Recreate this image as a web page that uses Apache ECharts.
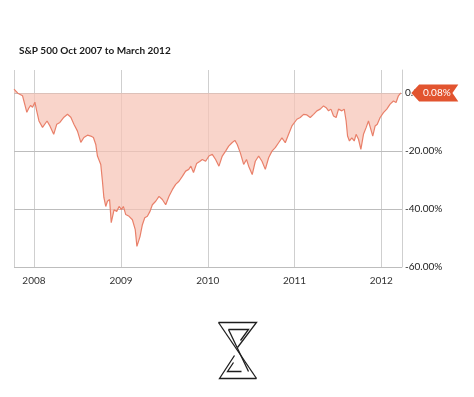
<!DOCTYPE html>
<html>
<head>
<meta charset="utf-8">
<title>S&P 500 Oct 2007 to March 2012</title>
<script src="https://cdn.jsdelivr.net/npm/echarts@6/dist/echarts.min.js"></script>
<style>
  html, body { margin: 0; padding: 0; background: #fff; }
  .chart { width: 474px; height: 397px; }
</style>
</head>
<body>
<div class="chart"></div>
<script>
// 数据
let dates = [
  '2007-10-09', '2007-10-25', '2007-11-14', '2007-11-23', '2007-12-02', '2007-12-10', '2007-12-18', '2007-12-26',
  '2008-01-05', '2008-01-12', '2008-01-22', '2008-02-06', '2008-02-12', '2008-02-25', '2008-03-08', '2008-03-24',
  '2008-04-06', '2008-04-19', '2008-05-06', '2008-05-21', '2008-06-04', '2008-06-17', '2008-07-02', '2008-07-16',
  '2008-07-29', '2008-08-13', '2008-08-27', '2008-09-07', '2008-09-17', '2008-09-24', '2008-09-30', '2008-10-08',
  '2008-10-15', '2008-10-21', '2008-10-29', '2008-11-05', '2008-11-14', '2008-11-21', '2008-12-03', '2008-12-14',
  '2008-12-24', '2009-01-03', '2009-01-11', '2009-01-21', '2009-02-04', '2009-02-18', '2009-03-02', '2009-03-09',
  '2009-03-22', '2009-04-01', '2009-04-11', '2009-04-22', '2009-05-03', '2009-05-13', '2009-05-27', '2009-06-10',
  '2009-06-24', '2009-07-08', '2009-07-22', '2009-08-05', '2009-08-19', '2009-09-02', '2009-09-16', '2009-09-30',
  '2009-10-13', '2009-10-22', '2009-11-02', '2009-11-15', '2009-11-28', '2009-12-09', '2009-12-23', '2010-01-06',
  '2010-01-20', '2010-02-03', '2010-02-17', '2010-03-03', '2010-03-17', '2010-03-30', '2010-04-13', '2010-04-25',
  '2010-05-05', '2010-05-18', '2010-06-01', '2010-06-13', '2010-06-22', '2010-07-07', '2010-07-20', '2010-08-03',
  '2010-08-17', '2010-08-31', '2010-09-14', '2010-09-28', '2010-10-12', '2010-10-26', '2010-11-09', '2010-11-23',
  '2010-12-07', '2010-12-21', '2011-01-11', '2011-01-25', '2011-02-08', '2011-02-22', '2011-03-08', '2011-03-22',
  '2011-04-05', '2011-04-19', '2011-05-03', '2011-05-14', '2011-05-24', '2011-06-03', '2011-06-14', '2011-06-25',
  '2011-07-05', '2011-07-19', '2011-07-29', '2011-08-06', '2011-08-12', '2011-08-20', '2011-08-30', '2011-09-09',
  '2011-09-17', '2011-09-27', '2011-10-07', '2011-10-18', '2011-10-29', '2011-11-08', '2011-11-15', '2011-11-26',
  '2011-12-06', '2011-12-15', '2011-12-27', '2012-01-10', '2012-01-24', '2012-02-07', '2012-02-21', '2012-03-03',
  '2012-03-13', '2012-03-23'
];
let change = [
  1.4, 0.0, -0.9, -3.8, -6.6, -5.2, -4.2, -4.9,
  -3.1, -5.9, -9.6, -11.8, -11.4, -9.6, -11.3, -14.2,
  -10.7, -10.1, -8.3, -7.3, -8.3, -10.7, -13.1, -17.0,
  -15.3, -14.5, -14.8, -15.3, -17.7, -21.7, -21.1, -24.6,
  -30.4, -36.0, -39.1, -37.3, -36.7, -44.7, -40.2, -40.8,
  -39.1, -40.2, -39.1, -41.9, -42.5, -43.7, -47.1, -52.9,
  -49.5, -45.4, -43.0, -42.5, -40.8, -38.5, -37.3, -35.6,
  -36.7, -38.5, -35.6, -33.3, -31.5, -30.4, -28.7, -26.9,
  -26.3, -25.2, -27.4, -24.3, -23.6, -22.9, -23.5, -21.7,
  -21.1, -22.9, -25.2, -21.7, -20.0, -18.3, -17.1, -16.3,
  -17.7, -20.6, -24.6, -22.9, -25.2, -28.1, -23.5, -21.7,
  -23.5, -26.3, -22.3, -20.0, -18.8, -17.1, -15.4, -17.1,
  -14.2, -11.3, -9.0, -8.4, -7.3, -7.5, -8.4, -7.3,
  -6.1, -5.5, -4.4, -5.0, -6.1, -5.5, -7.9, -8.4,
  -5.5, -6.1, -5.5, -9.6, -14.8, -16.5, -15.4, -16.5,
  -14.2, -15.9, -19.4, -14.2, -11.9, -9.6, -9.0, -14.8,
  -11.3, -10.7, -8.4, -6.7, -5.5, -3.8, -2.7, -3.2,
  -0.9, 0.08
];
let yTicks = [-60, -40, -20, 0];

(function () {
  let mychart = echarts.init(document.querySelector('.chart'))
  let points = dates.map(function (d, i) { return [d, change[i]] })
  let last = points[points.length - 1]
  let logoStyle = { stroke: '#1e1e1e', fill: null, lineWidth: 1.3 }

  let option = {
    backgroundColor: '#fff',
    animation: false,
    title: {
      text: 'S&P 500 Oct 2007 to March 2012',
      left: 14,
      top: 41,
      textStyle: {
        fontFamily: 'Lato',
        fontSize: 10,
        fontWeight: 700,
        color: '#1a1a1a'
      }
    },
    grid: {
      left: 14,
      right: 72,
      top: 70,
      bottom: 130
    },
    xAxis: {
      type: 'time',
      min: '2007-10-09',
      max: '2012-03-28',
      minInterval: 365 * 24 * 3600 * 1000,
      axisLine: { show: false },
      axisTick: { show: false },
      axisLabel: {
        formatter: '{yyyy}',
        fontFamily: 'Lato',
        fontSize: 10,
        color: '#333',
        margin: 9,
        showMinLabel: false,
        showMaxLabel: false
      },
      splitLine: {
        show: true,
        lineStyle: { color: '#cfcfcf', width: 1 }
      }
    },
    yAxis: {
      type: 'value',
      position: 'right',
      min: yTicks[0],
      max: 8,
      interval: 20,
      z: 3,
      axisLine: {
        show: true,
        lineStyle: { color: '#cfcfcf' }
      },
      axisTick: { show: false },
      axisLabel: {
        formatter: function (v) { return v.toFixed(2) + '%' },
        fontFamily: 'Lato',
        fontSize: 10,
        color: '#222',
        margin: 3,
        showMaxLabel: false
      },
      splitLine: {
        show: true,
        showMaxLine: false,
        lineStyle: { color: '#bdbdbd', width: 1 }
      }
    },
    series: [
      {
        name: 'S&P 500',
        type: 'line',
        data: points,
        symbol: 'none',
        smooth: false,
        lineStyle: { color: '#e9806a', width: 1.2 },
        areaStyle: { color: '#f6c4b5', opacity: 0.72 },
        markPoint: {
          symbol: 'path://M0,8 L8,0 L48,0 L42,8 L48,16 L8,16 Z',
          symbolSize: [47, 17],
          symbolOffset: [34, 0],
          itemStyle: { color: '#e2542f' },
          label: {
            show: true,
            formatter: last[1].toFixed(2) + '%',
            color: '#fff',
            fontFamily: 'Lato',
            fontSize: 10,
            offset: [2, 0]
          },
          data: [{ coord: last }]
        }
      }
    ],
    // 底部 logo
    graphic: [
      {
        type: 'group',
        left: 216,
        top: 320,
        children: [
          { type: 'polyline', shape: { points: [[1, 1], [39, 1], [20, 26]] }, style: logoStyle },
          { type: 'polyline', shape: { points: [[11, 8], [31, 8], [23, 19]] }, style: logoStyle },
          { type: 'line', shape: { x1: 1, y1: 1, x2: 39, y2: 57 }, style: logoStyle },
          { type: 'line', shape: { x1: 11, y1: 8, x2: 31, y2: 50 }, style: logoStyle },
          { type: 'polyline', shape: { points: [[39, 57], [2, 57], [17, 34]] }, style: logoStyle },
          { type: 'polyline', shape: { points: [[24, 50], [10, 50], [16, 41]] }, style: logoStyle }
        ]
      }
    ]
  }
  mychart.setOption(option)
  // 自适应
  window.addEventListener('resize', function () {
    mychart.resize()
  })
})();
</script>
</body>
</html>
